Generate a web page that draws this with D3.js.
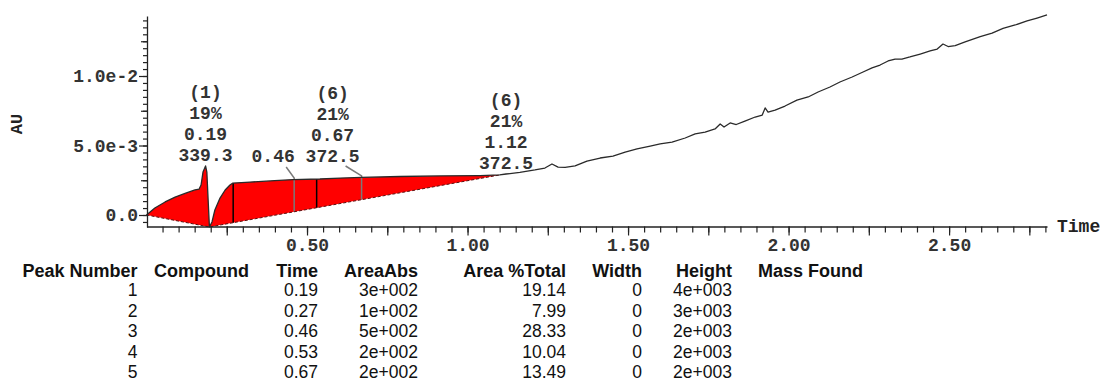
<!DOCTYPE html>
<html>
<head>
<meta charset="utf-8">
<script src="https://cdn.jsdelivr.net/npm/d3@7"></script>
<style>
  html, body { margin: 0; padding: 0; background: #fff; }
  svg { display: block; }
  .mono { font-family: "Liberation Mono", "Courier New", monospace; font-weight: bold; }
  .tbl { font-family: "Liberation Sans", Arial, sans-serif; }
</style>
</head>
<body>
<svg id="chart" width="1102" height="381"></svg>
<script>
// Chromatogram trace: retention time (min) and absorbance (AU)
const traceTime = [0.000, 0.026, 0.058, 0.089, 0.120, 0.151, 0.164, 0.170, 0.176, 0.184,
  0.188, 0.192, 0.196, 0.204, 0.213, 0.229, 0.245, 0.260, 0.269, 0.322,
  0.385, 0.456, 0.540, 0.603, 0.668, 0.790, 0.914, 1.039, 1.100, 1.120,
  1.163, 1.210, 1.241, 1.263, 1.282, 1.304, 1.335, 1.372, 1.413, 1.453,
  1.491, 1.528, 1.569, 1.600, 1.637, 1.678, 1.709, 1.740, 1.771, 1.787,
  1.799, 1.818, 1.837, 1.864, 1.896, 1.918, 1.927, 1.936, 1.958, 1.989,
  2.026, 2.061, 2.092, 2.129, 2.160, 2.198, 2.232, 2.260, 2.285, 2.310,
  2.332, 2.353, 2.378, 2.410, 2.441, 2.463, 2.481, 2.497, 2.519, 2.550,
  2.597, 2.634, 2.668, 2.706, 2.743, 2.774, 2.805];
const traceAU = [0.00e-3, 0.50e-3, 0.94e-3, 1.29e-3, 1.55e-3, 1.80e-3, 1.87e-3, 2.16e-3, 3.09e-3, 3.53e-3,
  3.09e-3, 1.08e-3, -0.86e-3, -0.50e-3, 0.36e-3, 1.22e-3, 1.80e-3, 2.16e-3, 2.30e-3, 2.37e-3,
  2.45e-3, 2.55e-3, 2.59e-3, 2.66e-3, 2.70e-3, 2.77e-3, 2.81e-3, 2.84e-3, 2.88e-3, 2.95e-3,
  3.06e-3, 3.24e-3, 3.38e-3, 3.67e-3, 3.45e-3, 3.42e-3, 3.53e-3, 3.88e-3, 4.10e-3, 4.24e-3,
  4.53e-3, 4.75e-3, 4.96e-3, 5.11e-3, 5.25e-3, 5.54e-3, 5.83e-3, 5.97e-3, 6.19e-3, 6.55e-3,
  6.33e-3, 6.62e-3, 6.51e-3, 6.76e-3, 7.05e-3, 7.19e-3, 7.70e-3, 7.41e-3, 7.55e-3, 7.84e-3,
  8.27e-3, 8.49e-3, 8.85e-3, 9.21e-3, 9.57e-3, 9.93e-3, 10.29e-3, 10.58e-3, 10.79e-3, 11.08e-3,
  11.22e-3, 11.22e-3, 11.37e-3, 11.58e-3, 11.80e-3, 11.94e-3, 12.30e-3, 12.12e-3, 12.19e-3, 12.45e-3,
  12.84e-3, 13.09e-3, 13.42e-3, 13.67e-3, 13.96e-3, 14.17e-3, 14.39e-3];

// Integration baseline (vertices) under the integrated region
const baseTime = [0.000, 0.196, 1.100];
const baseAU = [0.00e-3, -0.86e-3, 2.88e-3];

// Peak table
const peakNumbers = [1, 2, 3, 4, 5];
const peakTimes = [0.19, 0.27, 0.46, 0.53, 0.67];
const peakAreaAbs = ["3e+002", "1e+002", "5e+002", "2e+002", "2e+002"];
const peakAreaPct = ["19.14", "7.99", "28.33", "10.04", "13.49"];
const peakWidths = ["0", "0", "0", "0", "0"];
const peakHeights = ["4e+003", "3e+003", "2e+003", "2e+003", "2e+003"];
const tableHeaders = ["Peak Number", "Compound", "Time", "AreaAbs", "Area %Total", "Width", "Height", "Mass Found"];

// Peaks marked with plain drop lines (unlabelled)
const dropPeakTimes = [0.27, 0.53];

// Peak annotations: time and text lines (top to bottom)
const annotTimes = [0.19, 0.46, 0.67, 1.12];
const annotLines = [
  ["(1)", "19%", "0.19", "339.3"],
  ["0.46"],
  ["(6)", "21%", "0.67", "372.5"],
  ["(6)", "21%", "1.12", "372.5"]
];

// Axis tick values
const xLabelTicks = [0.5, 1.0, 1.5, 2.0, 2.5];
const xMajorTicks = [0.25, 0.75, 1.25, 1.75, 2.25, 2.75];
const xMinorTicks = d3.range(1, 57).map(i => +(i * 0.05).toFixed(2));
const yLabelTicks = [0, 0.005, 0.01];
const yLabelText = ["0.0", "5.0e-3", "1.0e-2"];
const yMidTicks = [0.0025, 0.0075, 0.0125];
const yMinorTicks = d3.range(-1, 29).map(i => +(i * 0.0005).toFixed(4));

// ---- layout
const svg = d3.select("#chart");
svg.append("rect").attr("width", 1102).attr("height", 381).attr("fill", "#fff");

const x = d3.scaleLinear().domain([0, 2.805]).range([146.5, 1047]);
const y = d3.scaleLinear().domain([-0.000863, 0.014317]).range([227, 16]);

const trace = traceTime.map((t, i) => ({ t, v: traceAU[i] }));
const baseAt = d3.scaleLinear().domain(baseTime).range(baseAU);
const traceAt = d3.scaleLinear().domain(traceTime).range(traceAU);
const integrated = trace.filter(d => d.t <= baseTime[baseTime.length - 1]);

// red integrated area between trace and baseline
svg.append("path")
  .datum(integrated)
  .attr("fill", "#ff0000")
  .attr("d", d3.area().x(d => x(d.t)).y0(d => y(baseAt(d.t))).y1(d => y(d.v)));

// drop lines for unlabelled peaks
svg.append("g").selectAll("line").data(dropPeakTimes).join("line")
  .attr("x1", d => x(d)).attr("x2", d => x(d))
  .attr("y1", d => y(traceAt(d))).attr("y2", d => y(baseAt(d)))
  .attr("stroke", "#000").attr("stroke-width", 1.5);

// label placement: horizontal shift of the text stack, baseline of its last line,
// and (for offset labels) the top of the leader line
const labelPos = [
  { dx: -2, bottom: 161 },
  { dx: -21, bottom: 162, leaderTop: 167 },
  { dx: -29, bottom: 162, leaderTop: 166 },
  { dx: 0, bottom: 169 }
];

// leader lines to the peak markers
annotTimes.forEach((t, i) => {
  const p = labelPos[i];
  if (p.leaderTop == null) return;
  const px = x(t);
  const apexY = y(traceAt(t)) - 1.5;
  svg.append("path")
    .attr("d", `M${px + p.dx + 13},${p.leaderTop}L${px},${apexY}L${px},${y(baseAt(t))}`)
    .attr("fill", "none").attr("stroke", "#7a7a7a").attr("stroke-width", 1.5);
});

// baseline (dashed)
svg.append("path")
  .datum(baseTime.map((t, i) => ({ t, v: baseAU[i] })))
  .attr("fill", "none").attr("stroke", "#5a1010").attr("stroke-width", 1)
  .attr("stroke-dasharray", "3,2")
  .attr("d", d3.line().x(d => x(d.t)).y(d => y(d.v)));

// chromatogram trace
svg.append("path")
  .datum(trace)
  .attr("fill", "none").attr("stroke", "#2a2a2a").attr("stroke-width", 1.3)
  .attr("stroke-linejoin", "round")
  .attr("d", d3.line().x(d => x(d.t)).y(d => y(d.v)));

// ---- axes
const axisColor = "#222";
function styleAxis(g) {
  g.selectAll("line").attr("stroke", axisColor).attr("stroke-width", 1.2);
  g.selectAll(".domain").attr("stroke", axisColor).attr("stroke-width", 1.3);
  g.selectAll("text").attr("class", "mono").attr("fill", "#333").attr("font-size", 18);
}
const xAxisY = 226.5;
svg.append("g").attr("transform", `translate(0,${xAxisY})`)
  .call(d3.axisBottom(x).tickValues(xMinorTicks).tickSize(6).tickSizeOuter(0).tickFormat(""))
  .call(styleAxis);
svg.append("g").attr("transform", `translate(0,${xAxisY})`)
  .call(d3.axisBottom(x).tickValues(xMajorTicks).tickSize(9).tickFormat(""))
  .call(g => g.select(".domain").remove()).call(styleAxis);
svg.append("g").attr("transform", `translate(0,${xAxisY})`)
  .call(d3.axisBottom(x).tickValues(xLabelTicks).tickSize(9).tickPadding(3).tickFormat(d3.format(".2f")))
  .call(g => g.select(".domain").remove()).call(styleAxis);

const yAxisX = 147;
svg.append("g").attr("transform", `translate(${yAxisX},0)`)
  .call(d3.axisLeft(y).tickValues(yMinorTicks).tickSize(4).tickSizeOuter(0).tickFormat(""))
  .call(styleAxis);
svg.append("g").attr("transform", `translate(${yAxisX},0)`)
  .call(d3.axisLeft(y).tickValues(yMidTicks).tickSize(6).tickFormat(""))
  .call(g => g.select(".domain").remove()).call(styleAxis);
svg.append("g").attr("transform", `translate(${yAxisX},0)`)
  .call(d3.axisLeft(y).tickValues(yLabelTicks).tickSize(8).tickPadding(1)
    .tickFormat((d, i) => yLabelText[i]))
  .call(g => g.select(".domain").remove()).call(styleAxis);

// axis titles
svg.append("text").attr("class", "mono").attr("font-size", 18).attr("fill", "#222")
  .attr("x", 1057).attr("y", 232).text("Time");
svg.append("text").attr("class", "mono").attr("font-size", 17).attr("fill", "#222")
  .attr("transform", "translate(22,124) rotate(-90)").attr("text-anchor", "middle").text("AU");

// ---- peak annotations
const lineGap = 21;
annotTimes.forEach((t, i) => {
  const lines = annotLines[i];
  const p = labelPos[i];
  const cx = x(t) + p.dx;
  const g = svg.append("g");
  lines.forEach((s, j) => {
    g.append("text").attr("class", "mono").attr("font-size", 18).attr("fill", "#333")
      .attr("text-anchor", "middle")
      .attr("x", cx).attr("y", p.bottom - (lines.length - 1 - j) * lineGap)
      .text(s);
  });
});

// ---- peak table
const colRight = [137.5, null, 318, 418, 566, 642, 732, null];
const colLeft = [null, 154, null, null, null, null, null, 758];
const headerY = 277;
const rowY0 = 296, rowGap = 20.5;
const tbl = svg.append("g").attr("class", "tbl").attr("fill", "#111");
tableHeaders.forEach((h, i) => {
  tbl.append("text").attr("font-weight", "bold").attr("font-size", 18)
    .attr("x", colRight[i] != null ? colRight[i] : colLeft[i])
    .attr("text-anchor", colRight[i] != null ? "end" : "start")
    .attr("y", headerY).text(h);
});
const columns = [peakNumbers, null, peakTimes.map(d => d.toFixed(2)), peakAreaAbs, peakAreaPct, peakWidths, peakHeights, null];
columns.forEach((col, ci) => {
  if (!col) return;
  col.forEach((v, ri) => {
    tbl.append("text").attr("font-size", 17.5)
      .attr("x", colRight[ci]).attr("text-anchor", "end")
      .attr("y", rowY0 + ri * rowGap).text(v);
  });
});
</script>
</body>
</html>
